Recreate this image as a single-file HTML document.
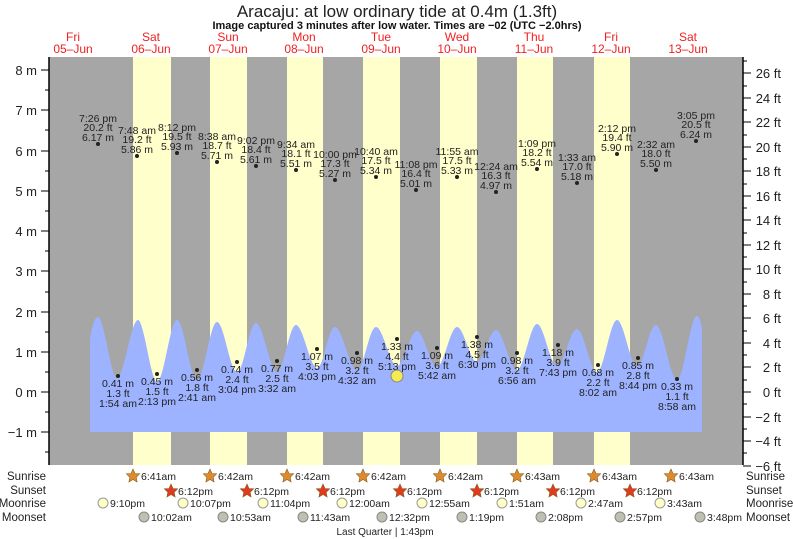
<!DOCTYPE html>
<html><head><meta charset="utf-8"><style>
body{margin:0;background:#fff;}
svg{display:block;font-family:"Liberation Sans",sans-serif;}
</style></head><body>
<svg width="793" height="539" viewBox="0 0 793 539" xmlns="http://www.w3.org/2000/svg">
<defs>
<polygon id="star" points="0,-7 2,-2.5 6.7,-2.2 3.2,1.3 4.1,6 0,3.5 -4.1,6 -3.2,1.3 -6.7,-2.2 -2,-2.5" stroke="#806020" stroke-width="0.6"/>
</defs>
<text x="397" y="17" font-size="17" text-anchor="middle" fill="#222">Aracaju: at low  ordinary tide at 0.4m (1.3ft)</text>
<text x="397" y="29" font-size="11" font-weight="bold" text-anchor="middle" fill="#111">Image captured 3 minutes after low water. Times are −02 (UTC −2.0hrs)</text>
<g font-size="12" fill="#ee2222" text-anchor="middle">
<text x="73" y="41">Fri</text><text x="73" y="53">05–Jun</text>
<text x="151" y="41">Sat</text><text x="151" y="53">06–Jun</text>
<text x="228" y="41">Sun</text><text x="228" y="53">07–Jun</text>
<text x="304" y="41">Mon</text><text x="304" y="53">08–Jun</text>
<text x="381" y="41">Tue</text><text x="381" y="53">09–Jun</text>
<text x="457" y="41">Wed</text><text x="457" y="53">10–Jun</text>
<text x="534" y="41">Thu</text><text x="534" y="53">11–Jun</text>
<text x="611" y="41">Fri</text><text x="611" y="53">12–Jun</text>
<text x="688" y="41">Sat</text><text x="688" y="53">13–Jun</text>
</g>
<rect x="49" y="57" width="694" height="408" fill="#a6a6a6"/>
<g fill="#ffffcc">
<rect x="133" y="57" width="38" height="408"/><rect x="210" y="57" width="37" height="408"/>
<rect x="287" y="57" width="36" height="408"/><rect x="363" y="57" width="37" height="408"/>
<rect x="440" y="57" width="37" height="408"/><rect x="517" y="57" width="36" height="408"/>
<rect x="594" y="57" width="36" height="408"/>
</g>
<path fill="#9db3ff" d="M90,432 L90,340 C92,325 95,317 98,317
C104,317 111,378 117,378 C124,378 131,320 138,320
C144,320 151,382 157,382 C164,382 170,320 177,320
C184,320 190,380 197,380 C204,380 210,322 217,322
C224,322 230,372 237,372 C244,372 249,323 256,323
C263,323 270,372 277,372 C284,372 289,325 296,325
C303,325 310,368 317,368 C324,368 328,327 335,327
C342,327 350,370 357,370 C364,370 369,327 376,327
C383,327 390,366 397,366 C404,366 410,331 417,331
C424,331 430,367 437,367 C444,367 450,327 457,327
C464,327 470,362 477,362 C484,362 489,330 496,330
C503,330 510,370 517,370 C524,370 530,324 537,324
C544,324 550,366 557,366 C564,366 570,329 577,329
C584,329 590,372 597,372 C604,372 610,320 617,320
C624,320 630,366 637,366 C644,366 649,325 656,325
C663,325 670,380 677,380 C684,380 690,316 697,316
C699,316 701,322 702,328 L702,432 Z"/>
<line x1="49" y1="57" x2="49" y2="465" stroke="#000" stroke-width="1.5"/>
<line x1="743" y1="57" x2="743" y2="465" stroke="#000" stroke-width="1.5"/>
<g stroke="#000" stroke-width="1">
<line x1="41" y1="70" x2="49" y2="70"/><line x1="41" y1="110" x2="49" y2="110"/><line x1="41" y1="151" x2="49" y2="151"/><line x1="41" y1="191" x2="49" y2="191"/><line x1="41" y1="231" x2="49" y2="231"/><line x1="41" y1="271" x2="49" y2="271"/><line x1="41" y1="312" x2="49" y2="312"/><line x1="41" y1="352" x2="49" y2="352"/><line x1="41" y1="392" x2="49" y2="392"/><line x1="41" y1="432" x2="49" y2="432"/>
<line x1="45" y1="90" x2="49" y2="90"/><line x1="45" y1="130" x2="49" y2="130"/><line x1="45" y1="171" x2="49" y2="171"/><line x1="45" y1="211" x2="49" y2="211"/><line x1="45" y1="251" x2="49" y2="251"/><line x1="45" y1="292" x2="49" y2="292"/><line x1="45" y1="332" x2="49" y2="332"/><line x1="45" y1="372" x2="49" y2="372"/><line x1="45" y1="412" x2="49" y2="412"/><line x1="45" y1="452" x2="49" y2="452"/>
</g>
<g font-size="13" fill="#222" text-anchor="end">
<text x="37" y="75">8 m</text><text x="37" y="115">7 m</text><text x="37" y="156">6 m</text><text x="37" y="196">5 m</text><text x="37" y="236">4 m</text><text x="37" y="276">3 m</text><text x="37" y="317">2 m</text><text x="37" y="357">1 m</text><text x="37" y="397">0 m</text><text x="37" y="437">−1 m</text>
</g>
<g stroke="#000" stroke-width="1">
<line x1="743" y1="73" x2="751" y2="73"/><line x1="743" y1="98" x2="751" y2="98"/><line x1="743" y1="122" x2="751" y2="122"/><line x1="743" y1="147" x2="751" y2="147"/><line x1="743" y1="171" x2="751" y2="171"/><line x1="743" y1="196" x2="751" y2="196"/><line x1="743" y1="220" x2="751" y2="220"/><line x1="743" y1="245" x2="751" y2="245"/><line x1="743" y1="269" x2="751" y2="269"/><line x1="743" y1="294" x2="751" y2="294"/><line x1="743" y1="318" x2="751" y2="318"/><line x1="743" y1="343" x2="751" y2="343"/><line x1="743" y1="367" x2="751" y2="367"/><line x1="743" y1="392" x2="751" y2="392"/><line x1="743" y1="417" x2="751" y2="417"/><line x1="743" y1="441" x2="751" y2="441"/><line x1="743" y1="466" x2="751" y2="466"/>
<line x1="743" y1="61" x2="747" y2="61"/><line x1="743" y1="86" x2="747" y2="86"/><line x1="743" y1="110" x2="747" y2="110"/><line x1="743" y1="135" x2="747" y2="135"/><line x1="743" y1="159" x2="747" y2="159"/><line x1="743" y1="184" x2="747" y2="184"/><line x1="743" y1="208" x2="747" y2="208"/><line x1="743" y1="233" x2="747" y2="233"/><line x1="743" y1="257" x2="747" y2="257"/><line x1="743" y1="282" x2="747" y2="282"/><line x1="743" y1="306" x2="747" y2="306"/><line x1="743" y1="331" x2="747" y2="331"/><line x1="743" y1="355" x2="747" y2="355"/><line x1="743" y1="380" x2="747" y2="380"/><line x1="743" y1="404" x2="747" y2="404"/><line x1="743" y1="429" x2="747" y2="429"/><line x1="743" y1="453" x2="747" y2="453"/>
</g>
<g font-size="13" fill="#222" text-anchor="end">
<text x="781" y="78">26 ft</text><text x="781" y="103">24 ft</text><text x="781" y="127">22 ft</text><text x="781" y="152">20 ft</text><text x="781" y="176">18 ft</text><text x="781" y="201">16 ft</text><text x="781" y="225">14 ft</text><text x="781" y="250">12 ft</text><text x="781" y="274">10 ft</text><text x="781" y="299">8 ft</text><text x="781" y="323">6 ft</text><text x="781" y="348">4 ft</text><text x="781" y="372">2 ft</text><text x="781" y="397">0 ft</text><text x="781" y="422">−2 ft</text><text x="781" y="446">−4 ft</text><text x="781" y="471">−6 ft</text>
</g>
<g font-size="10.5" fill="#222" text-anchor="middle">
<circle cx="98" cy="144" r="2"/><text x="98" y="122">7:26 pm</text><text x="98" y="131">20.2 ft</text><text x="98" y="141">6.17 m</text>
<circle cx="137" cy="156" r="2"/><text x="137" y="134">7:48 am</text><text x="137" y="143">19.2 ft</text><text x="137" y="153">5.86 m</text>
<circle cx="177" cy="153" r="2"/><text x="177" y="131">8:12 pm</text><text x="177" y="140">19.5 ft</text><text x="177" y="150">5.93 m</text>
<circle cx="217" cy="162" r="2"/><text x="217" y="140">8:38 am</text><text x="217" y="149">18.7 ft</text><text x="217" y="159">5.71 m</text>
<circle cx="256" cy="166" r="2"/><text x="256" y="144">9:02 pm</text><text x="256" y="153">18.4 ft</text><text x="256" y="163">5.61 m</text>
<circle cx="296" cy="170" r="2"/><text x="296" y="148">9:34 am</text><text x="296" y="157">18.1 ft</text><text x="296" y="167">5.51 m</text>
<circle cx="335" cy="180" r="2"/><text x="335" y="158">10:00 pm</text><text x="335" y="167">17.3 ft</text><text x="335" y="177">5.27 m</text>
<circle cx="376" cy="177" r="2"/><text x="376" y="155">10:40 am</text><text x="376" y="164">17.5 ft</text><text x="376" y="174">5.34 m</text>
<circle cx="416" cy="190" r="2"/><text x="416" y="168">11:08 pm</text><text x="416" y="177">16.4 ft</text><text x="416" y="187">5.01 m</text>
<circle cx="457" cy="177" r="2"/><text x="457" y="155">11:55 am</text><text x="457" y="164">17.5 ft</text><text x="457" y="174">5.33 m</text>
<circle cx="496" cy="192" r="2"/><text x="496" y="170">12:24 am</text><text x="496" y="179">16.3 ft</text><text x="496" y="189">4.97 m</text>
<circle cx="537" cy="169" r="2"/><text x="537" y="147">1:09 pm</text><text x="537" y="156">18.2 ft</text><text x="537" y="166">5.54 m</text>
<circle cx="577" cy="183" r="2"/><text x="577" y="161">1:33 am</text><text x="577" y="170">17.0 ft</text><text x="577" y="180">5.18 m</text>
<circle cx="617" cy="154" r="2"/><text x="617" y="132">2:12 pm</text><text x="617" y="141">19.4 ft</text><text x="617" y="151">5.90 m</text>
<circle cx="656" cy="170" r="2"/><text x="656" y="148">2:32 am</text><text x="656" y="157">18.0 ft</text><text x="656" y="167">5.50 m</text>
<circle cx="696" cy="141" r="2"/><text x="696" y="119">3:05 pm</text><text x="696" y="128">20.5 ft</text><text x="696" y="138">6.24 m</text>

<circle cx="118" cy="376" r="2"/><text x="118" y="387">0.41 m</text><text x="118" y="397">1.3 ft</text><text x="118" y="407">1:54 am</text>
<circle cx="157" cy="374" r="2"/><text x="157" y="385">0.45 m</text><text x="157" y="395">1.5 ft</text><text x="157" y="405">2:13 pm</text>
<circle cx="197" cy="370" r="2"/><text x="197" y="381">0.56 m</text><text x="197" y="391">1.8 ft</text><text x="197" y="401">2:41 am</text>
<circle cx="237" cy="362" r="2"/><text x="237" y="373">0.74 m</text><text x="237" y="383">2.4 ft</text><text x="237" y="393">3:04 pm</text>
<circle cx="277" cy="361" r="2"/><text x="277" y="372">0.77 m</text><text x="277" y="382">2.5 ft</text><text x="277" y="392">3:32 am</text>
<circle cx="317" cy="349" r="2"/><text x="317" y="360">1.07 m</text><text x="317" y="370">3.5 ft</text><text x="317" y="380">4:03 pm</text>
<circle cx="357" cy="353" r="2"/><text x="357" y="364">0.98 m</text><text x="357" y="374">3.2 ft</text><text x="357" y="384">4:32 am</text>
<circle cx="397" cy="339" r="2"/><text x="397" y="350">1.33 m</text><text x="397" y="360">4.4 ft</text><text x="397" y="370">5:13 pm</text>
<circle cx="437" cy="348" r="2"/><text x="437" y="359">1.09 m</text><text x="437" y="369">3.6 ft</text><text x="437" y="379">5:42 am</text>
<circle cx="477" cy="337" r="2"/><text x="477" y="348">1.38 m</text><text x="477" y="358">4.5 ft</text><text x="477" y="368">6:30 pm</text>
<circle cx="517" cy="353" r="2"/><text x="517" y="364">0.98 m</text><text x="517" y="374">3.2 ft</text><text x="517" y="384">6:56 am</text>
<circle cx="558" cy="345" r="2"/><text x="558" y="356">1.18 m</text><text x="558" y="366">3.9 ft</text><text x="558" y="376">7:43 pm</text>
<circle cx="598" cy="365" r="2"/><text x="598" y="376">0.68 m</text><text x="598" y="386">2.2 ft</text><text x="598" y="396">8:02 am</text>
<circle cx="638" cy="358" r="2"/><text x="638" y="369">0.85 m</text><text x="638" y="379">2.8 ft</text><text x="638" y="389">8:44 pm</text>
<circle cx="677" cy="379" r="2"/><text x="677" y="390">0.33 m</text><text x="677" y="400">1.1 ft</text><text x="677" y="410">8:58 am</text>
</g>
<circle cx="397" cy="376" r="6" fill="#f2ec50" stroke="#888" stroke-width="1"/>
<g font-size="11.5" fill="#222">
<text x="46" y="480" text-anchor="end">Sunrise</text><text x="46" y="494" text-anchor="end">Sunset</text><text x="46" y="507" text-anchor="end">Moonrise</text><text x="46" y="521" text-anchor="end">Moonset</text>
<text x="746" y="480">Sunrise</text><text x="746" y="494">Sunset</text><text x="746" y="507">Moonrise</text><text x="746" y="521">Moonset</text>
</g>
<g fill="#e08a30">
<use href="#star" x="133" y="476"/><use href="#star" x="210" y="476"/><use href="#star" x="287" y="476"/><use href="#star" x="363" y="476"/><use href="#star" x="440" y="476"/><use href="#star" x="517" y="476"/><use href="#star" x="594" y="476"/><use href="#star" x="671" y="476"/>
</g>
<g fill="#e03a20">
<use href="#star" x="171" y="491"/><use href="#star" x="247" y="491"/><use href="#star" x="323" y="491"/><use href="#star" x="400" y="491"/><use href="#star" x="477" y="491"/><use href="#star" x="553" y="491"/><use href="#star" x="630" y="491"/>
</g>
<g fill="#ffffc8" stroke="#999">
<circle cx="103" cy="503" r="5"/><circle cx="183" cy="503" r="5"/><circle cx="263" cy="503" r="5"/><circle cx="342" cy="503" r="5"/><circle cx="422" cy="503" r="5"/><circle cx="502" cy="503" r="5"/><circle cx="581" cy="503" r="5"/><circle cx="660" cy="503" r="5"/>
</g>
<g fill="#c0c0b0" stroke="#888">
<circle cx="144" cy="517" r="5"/><circle cx="223" cy="517" r="5"/><circle cx="303" cy="517" r="5"/><circle cx="382" cy="517" r="5"/><circle cx="462" cy="517" r="5"/><circle cx="541" cy="517" r="5"/><circle cx="620" cy="517" r="5"/><circle cx="700" cy="517" r="5"/>
</g>
<g font-size="10.5" fill="#222">
<text x="141" y="480">6:41am</text><text x="218" y="480">6:42am</text><text x="295" y="480">6:42am</text><text x="371" y="480">6:42am</text><text x="448" y="480">6:42am</text><text x="525" y="480">6:43am</text><text x="602" y="480">6:43am</text><text x="679" y="480">6:43am</text>
<text x="178" y="495">6:12pm</text><text x="254" y="495">6:12pm</text><text x="330" y="495">6:12pm</text><text x="407" y="495">6:12pm</text><text x="484" y="495">6:12pm</text><text x="560" y="495">6:12pm</text><text x="637" y="495">6:12pm</text>
<text x="110" y="507">9:10pm</text><text x="190" y="507">10:07pm</text><text x="270" y="507">11:04pm</text><text x="349" y="507">12:00am</text><text x="429" y="507">12:55am</text><text x="509" y="507">1:51am</text><text x="588" y="507">2:47am</text><text x="667" y="507">3:43am</text>
<text x="151" y="521">10:02am</text><text x="230" y="521">10:53am</text><text x="310" y="521">11:43am</text><text x="389" y="521">12:32pm</text><text x="469" y="521">1:19pm</text><text x="548" y="521">2:08pm</text><text x="627" y="521">2:57pm</text><text x="707" y="521">3:48pm</text>
<text x="385" y="535" text-anchor="middle" font-size="10">Last Quarter | 1:43pm</text>
</g>
</svg>
</body></html>
